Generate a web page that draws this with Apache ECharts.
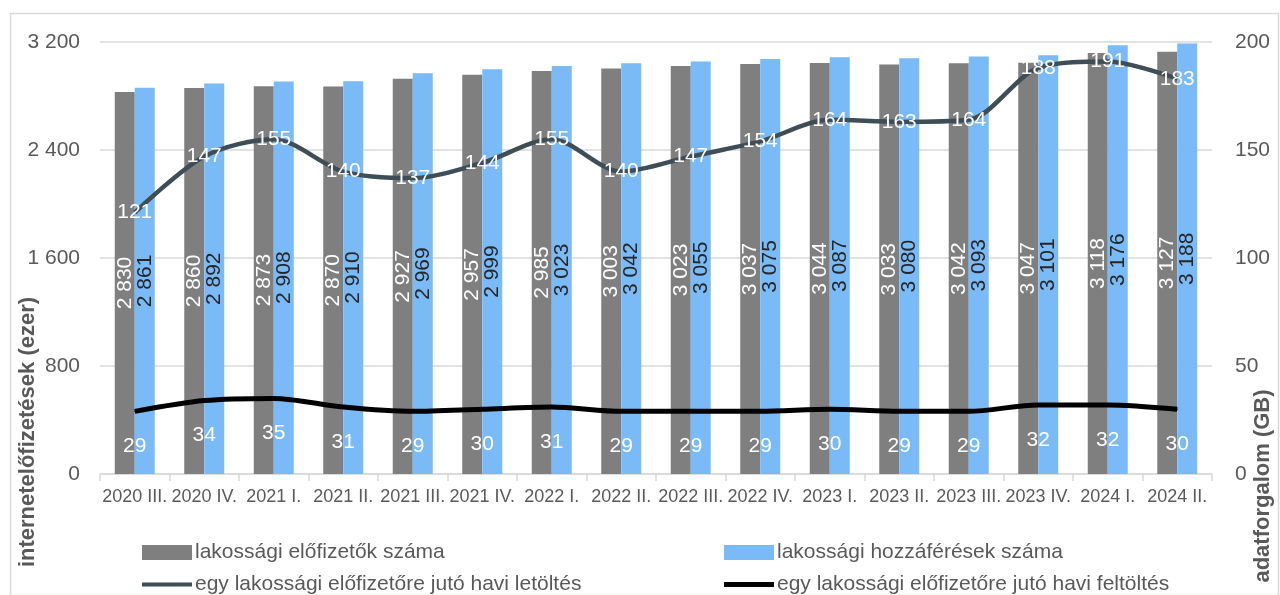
<!DOCTYPE html>
<html>
<head>
<meta charset="utf-8">
<script src="https://cdn.jsdelivr.net/npm/echarts@6/dist/echarts.min.js"></script>
<style>
  html, body { margin: 0; padding: 0; background: #fff; }
  #chart { width: 1280px; height: 595px; }
</style>
</head>
<body>
<div id="chart"></div>
<script>
const categories = ['2020 III.', '2020 IV.', '2021 I.', '2021 II.', '2021 III.', '2021 IV.', '2022 I.', '2022 II.',
  '2022 III.', '2022 IV.', '2023 I.', '2023 II.', '2023 III.', '2023 IV.', '2024 I.', '2024 II.'];
const subscribers = [2830, 2860, 2873, 2870, 2927, 2957, 2985, 3003, 3023, 3037, 3044, 3033, 3042, 3047, 3118, 3127];
const accesses = [2861, 2892, 2908, 2910, 2969, 2999, 3023, 3042, 3055, 3075, 3087, 3080, 3093, 3101, 3176, 3188];
const download = [121, 147, 155, 140, 137, 144, 155, 140, 147, 154, 164, 163, 164, 188, 191, 183];
const upload = [29, 34, 35, 31, 29, 30, 31, 29, 29, 29, 30, 29, 29, 32, 32, 30];

const FONT = '"Liberation Sans", "Noto Sans", sans-serif';
const TXT = '#595959';
const GRAY = '#7f7f7f', BLUE = '#7abaf7', DARK = '#3f4d57';

const S_SUB = 'lakossági előfizetők száma';
const S_ACC = 'lakossági hozzáférések száma';
const S_DL = 'egy lakossági előfizetőre jutó havi letöltés';
const S_UL = 'egy lakossági előfizetőre jutó havi feltöltés';

// "3200" -> "3 200"
const spaced = v => String(v).replace(/\B(?=(\d{3})+(?!\d))/g, ' ');

const legendText = { color: TXT, fontSize: 21, fontFamily: FONT, padding: [0, 0, 0, -2] };
const oneLegend = (name, left, top, h, color) => ({
  data: [{ name, icon: 'rect', itemStyle: { color, opacity: 1 } }],
  left, top, itemWidth: 50, itemHeight: h,
  textStyle: legendText, selectedMode: false
});

const chart = echarts.init(document.getElementById('chart'), null, { renderer: 'canvas' });

const option = {
  animation: false,
  textStyle: { fontFamily: FONT },
  grid: { left: 100, right: 68, top: 42, bottom: 121, containLabel: false },
  graphic: [
    {
      type: 'rect', left: 8, top: 11, silent: true,
      shape: { width: 1268, height: 582 },
      style: { fill: 'none', stroke: '#d9d9d9', lineWidth: 1.5 }
    },
    {
      type: 'text', x: 28, y: 432, rotation: Math.PI / 2,
      style: { text: 'internetelőfizetések (ezer)', font: 'bold 22px ' + FONT, fill: TXT, align: 'center', verticalAlign: 'middle' }
    },
    {
      type: 'text', x: 1263, y: 486, rotation: Math.PI / 2,
      style: { text: 'adatforgalom (GB)', font: 'bold 22px ' + FONT, fill: TXT, align: 'center', verticalAlign: 'middle' }
    }
  ],
  legend: [
    oneLegend(S_SUB, 137, 537, 15, GRAY),
    oneLegend(S_DL, 137, 569, 4, DARK),
    oneLegend(S_ACC, 719, 537, 15, BLUE),
    oneLegend(S_UL, 719, 569, 5, '#000')
  ],
  xAxis: {
    type: 'category',
    data: categories,
    axisLine: { lineStyle: { color: '#d9d9d9', width: 1.5 } },
    axisTick: { show: true, length: 7, lineStyle: { color: '#d9d9d9', width: 1.5 } },
    axisLabel: { color: TXT, fontSize: 18, margin: 14, interval: 0 }
  },
  yAxis: [
    {
      type: 'value', min: 0, max: 3200, interval: 800,
      axisLabel: { color: TXT, fontSize: 21, margin: 20, formatter: spaced },
      axisLine: { show: false }, axisTick: { show: false },
      splitLine: { lineStyle: { color: '#d9d9d9', width: 1.5 } }
    },
    {
      type: 'value', min: 0, max: 200, interval: 50,
      axisLabel: { color: TXT, fontSize: 21, margin: 23 },
      axisLine: { show: false }, axisTick: { show: false },
      splitLine: { show: false }
    }
  ],
  series: [
    {
      name: S_SUB,
      type: 'bar', data: subscribers, barWidth: 20, barGap: '0%',
      itemStyle: { color: GRAY },
      label: {
        show: true, position: 'inside', rotate: 90, color: '#fff', fontSize: 21,
        formatter: p => spaced(p.value)
      }
    },
    {
      name: S_ACC,
      type: 'bar', data: accesses, barWidth: 20, barGap: '0%',
      itemStyle: { color: BLUE },
      label: {
        show: true, position: 'inside', rotate: 90, color: '#262626', fontSize: 21,
        formatter: p => spaced(p.value)
      }
    },
    {
      name: S_DL,
      type: 'line', yAxisIndex: 1, data: download, smooth: 0.3,
      symbol: 'circle', symbolSize: 1, showSymbol: true, z: 5,
      lineStyle: { color: DARK, width: 4.5 },
      itemStyle: { color: DARK },
      label: { show: true, position: 'inside', color: '#fff', fontSize: 21 }
    },
    {
      name: S_UL,
      type: 'line', yAxisIndex: 1, data: upload, smooth: 0.3,
      symbol: 'circle', symbolSize: 1, showSymbol: true, z: 5,
      lineStyle: { color: '#000', width: 5 },
      itemStyle: { color: '#000' },
      label: { show: true, position: 'bottom', distance: 24, color: '#fff', fontSize: 21 }
    }
  ]
};

chart.setOption(option);
</script>
</body>
</html>
